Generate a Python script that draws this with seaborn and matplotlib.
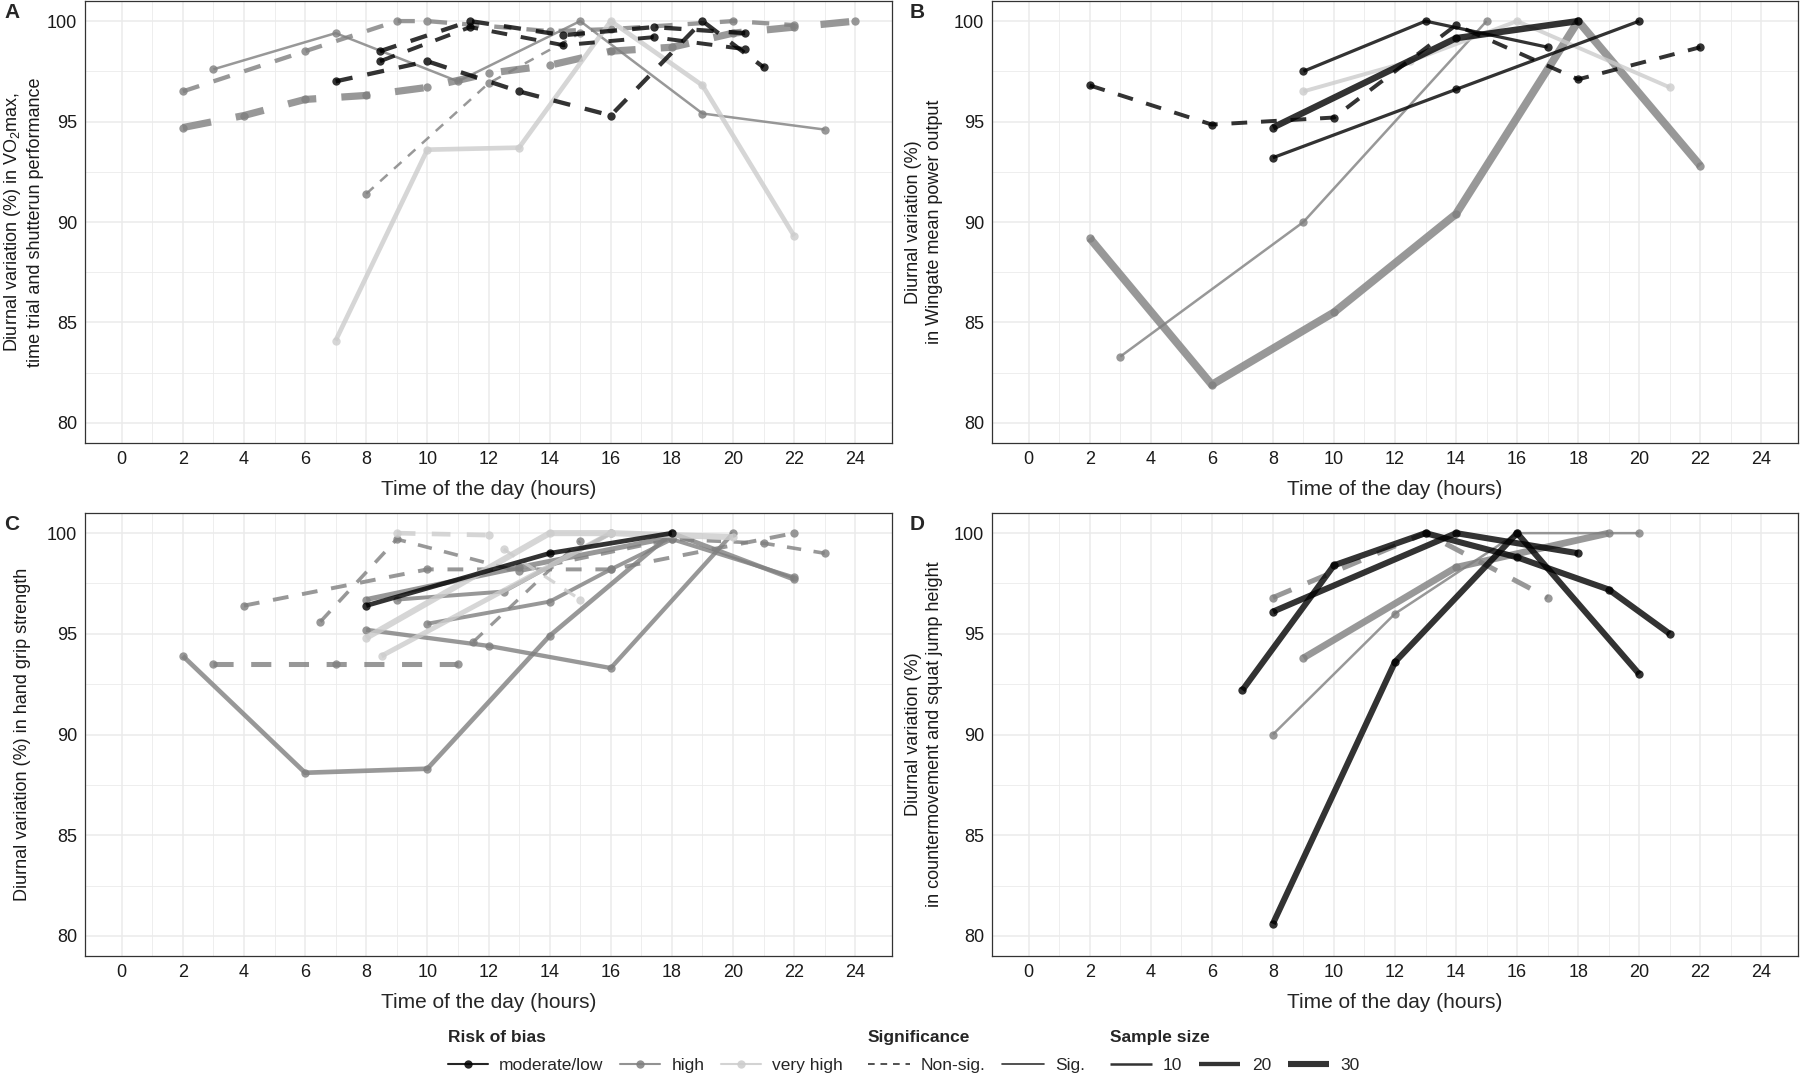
# Diurnal variation in performance - four panels (A-D)

import pandas as pd
import numpy as np
import matplotlib
matplotlib.use("Agg")
import matplotlib.pyplot as plt
from matplotlib.lines import Line2D
import seaborn as sns

# PANEL A - VO2max, time trial and shuttle run

a_hours = [
    [3, 7, 11, 15, 19, 23],
    [2, 4, 6, 8, 10, 12, 14, 16, 18, 20, 22, 24],
    [2, 6, 9, 10, 14, 16, 20, 22],
    [8, 12, 15],
    [7, 10, 13, 16, 19, 22],
    [7, 10, 13, 16, 19, 21],
    [8.45, 11.4, 14.45, 17.4, 20.4],
    [8.45, 11.4, 14.45, 17.4, 20.4],
]
a_values = [
    [97.6, 99.4, 97.0, 100.0, 95.4, 94.6],
    [94.7, 95.3, 96.1, 96.3, 96.7, 97.4, 97.8, 98.5, 98.7, 99.4, 99.7, 100.0],
    [96.5, 98.5, 100.0, 100.0, 99.5, 99.6, 100.0, 99.8],
    [91.4, 96.9, 99.4],
    [84.1, 93.6, 93.7, 100.0, 96.8, 89.3],
    [97.0, 98.0, 96.5, 95.3, 100.0, 97.7],
    [98.5, 100.0, 99.3, 99.7, 99.4],
    [98.0, 99.7, 98.8, 99.2, 98.6],
]
a_risk = ["high", "high", "high", "high", "very high",
          "moderate/low", "moderate/low", "moderate/low"]
a_sig = ["Sig.", "Non-sig.", "Non-sig.", "Non-sig.", "Sig.",
         "Non-sig.", "Non-sig.", "Non-sig."]
a_n = [10, 36, 20, 10, 22, 20, 20, 18]

# PANEL B - Wingate mean power output

b_hours = [
    [2, 6, 10, 14, 18, 22],
    [3, 9, 15],
    [9, 12.5, 16, 21],
    [2, 6, 10, 14, 18, 22],
    [9, 13, 17],
    [8, 14, 20],
    [8, 14, 18],
]
b_values = [
    [89.2, 81.9, 85.5, 90.4, 100.0, 92.8],
    [83.3, 90.0, 100.0],
    [96.5, 98.0, 100.0, 96.7],
    [96.8, 94.85, 95.2, 99.8, 97.1, 98.7],
    [97.5, 100.0, 98.7],
    [93.2, 96.6, 100.0],
    [94.7, 99.15, 100.0],
]
b_risk = ["high", "high", "very high", "moderate/low",
          "moderate/low", "moderate/low", "moderate/low"]
b_sig = ["Sig.", "Sig.", "Sig.", "Non-sig.", "Sig.", "Sig.", "Sig."]
b_n = [40, 10, 18, 18, 14, 14, 32]

# PANEL C - hand grip strength

c_hours = [
    [2, 6, 10, 14, 18, 22],
    [8, 12, 16, 20],
    [10, 14, 16, 18, 22],
    [9, 12.5, 16],
    [8, 13, 18],
    [3, 7, 11],
    [4, 10, 16, 22],
    [6.5, 9, 13, 18, 21, 23],
    [11.5, 15],
    [8, 14, 16, 20],
    [8.5, 16],
    [9, 12],
    [12.5, 15],
    [8, 14, 18],
]
c_values = [
    [93.9, 88.1, 88.3, 94.9, 100.0, 97.7],
    [95.2, 94.4, 93.3, 100.0],
    [95.5, 96.6, 98.2, 99.7, 97.8],
    [96.7, 97.1, 100.0],
    [96.7, 98.3, 99.8],
    [93.5, 93.5, 93.5],
    [96.4, 98.2, 98.2, 100.0],
    [95.6, 99.7, 98.1, 99.7, 99.5, 99.0],
    [94.6, 99.6],
    [94.8, 100.0, 100.0, 99.8],
    [93.9, 100.0],
    [100.0, 99.9],
    [99.2, 96.7],
    [96.4, 99.0, 100.0],
]
c_risk = ["high", "high", "high", "high", "high", "high", "high", "high", "high",
          "very high", "very high", "very high", "very high", "moderate/low"]
c_sig = ["Sig.", "Sig.", "Sig.", "Sig.", "Sig.", "Non-sig.", "Non-sig.", "Non-sig.",
         "Non-sig.", "Sig.", "Sig.", "Non-sig.", "Non-sig.", "Sig."]
c_n = [22, 20, 18, 18, 24, 24, 18, 16, 14, 30, 24, 22, 14, 22]

# PANEL D - countermovement and squat jump

d_hours = [
    [9, 14, 19],
    [8, 12, 16, 20],
    [8, 13, 17],
    [7, 10, 13, 16, 19, 21],
    [8, 14, 18],
    [8, 12, 16, 20],
]
d_values = [
    [93.8, 98.3, 100.0],
    [90.0, 96.0, 100.0, 100.0],
    [96.8, 100.0, 96.8],
    [92.2, 98.4, 100.0, 98.8, 97.2, 95.0],
    [96.1, 100.0, 99.0],
    [80.6, 93.6, 100.0, 93.0],
]
d_risk = ["high", "high", "high", "moderate/low", "moderate/low", "moderate/low"]
d_sig = ["Sig.", "Sig.", "Non-sig.", "Sig.", "Sig.", "Sig."]
d_n = [34, 10, 24, 30, 30, 30]

risk_levels = ["moderate/low", "high", "very high"]
sig_levels = ["Non-sig.", "Sig."]
size_levels = [10, 20, 30]

y_labels = {
    "A": "Diurnal variation (%) in VO$_2$max,\ntime trial and shutterun performance",
    "B": "Diurnal variation (%)\nin Wingate mean power output",
    "C": "Diurnal variation (%) in hand grip strength",
    "D": "Diurnal variation (%)\nin countermovement and squat jump height",
}

# LONG TABLE

def to_long(panel, hours, values, risk, sig, n):
    rows = []
    for i in range(len(hours)):
        for h, v in zip(hours[i], values[i]):
            rows.append({"panel": panel, "study": f"{panel}{i}", "hour": h,
                         "value": v, "risk": risk[i], "sig": sig[i], "n": n[i]})
    return pd.DataFrame(rows)

df = pd.concat([
    to_long("A", a_hours, a_values, a_risk, a_sig, a_n),
    to_long("B", b_hours, b_values, b_risk, b_sig, b_n),
    to_long("C", c_hours, c_values, c_risk, c_sig, c_n),
    to_long("D", d_hours, d_values, d_risk, d_sig, d_n),
], ignore_index=True)

# STYLE

sns.set_style("white")
plt.rcParams['font.family'] = ['Liberation Sans', 'DejaVu Sans']
plt.rcParams['mathtext.fontset'] = 'custom'
plt.rcParams['mathtext.rm'] = 'Liberation Sans'
plt.rcParams['mathtext.default'] = 'regular'

risk_colors = {"moderate/low": "#000000", "high": "#7F7F7F", "very high": "#CCCCCC"}
line_styles = {"Non-sig.": (0, (4, 3.5)), "Sig.": "-"}


def lw_for(n):
    return 1.8 + (n - 10) * 0.13


W, H = 1800, 1074
fig = plt.figure(figsize=(18, 10.74), dpi=100)

boxes = {
    "A": (85, 892, 1, 443),
    "B": (992, 1798, 1, 443),
    "C": (85, 892, 513, 956),
    "D": (992, 1798, 513, 956),
}

for panel, (x0, x1, y0, y1) in boxes.items():
    ax = fig.add_axes([x0 / W, 1 - y1 / H, (x1 - x0) / W, (y1 - y0) / H])
    sub = df[df["panel"] == panel]

    for study, s in sub.groupby("study", sort=False):
        row = s.iloc[0]
        sns.lineplot(
            data=s, x="hour", y="value", ax=ax,
            estimator=None, sort=False, legend=False,
            color=risk_colors[row["risk"]],
            linewidth=lw_for(row["n"]),
            linestyle=line_styles[row["sig"]],
            marker="o", markersize=6, markeredgewidth=0,
            alpha=0.8, solid_capstyle="butt", dash_capstyle="butt",
        )

    ax.set_xlim(-1.2, 25.2)
    ax.set_ylim(79, 101)
    ax.set_xticks(range(0, 25, 2))
    ax.set_xticks(range(1, 25, 2), minor=True)
    ax.set_yticks([80, 85, 90, 95, 100])
    ax.set_yticks([82.5, 87.5, 92.5, 97.5], minor=True)
    ax.grid(which="major", color="#EBEBEB", linewidth=1.1)
    ax.grid(which="minor", color="#EBEBEB", linewidth=0.6)
    ax.set_axisbelow(True)
    ax.tick_params(which="major", length=4, width=0.8, color="#333333",
                   labelsize=13, labelcolor="#1A1A1A", pad=1.5)
    ax.tick_params(which="minor", length=0)
    for sp in ax.spines.values():
        sp.set_color("#333333")
        sp.set_linewidth(0.9)

    ax.set_xlabel("Time of the day (hours)", fontsize=15, labelpad=9)
    ax.set_ylabel("")

    # y label and panel letter
    lab_x = 23 if x0 < 500 else 924
    fig.text(lab_x / W, 1 - ((y0 + y1) / 2) / H, y_labels[panel],
             rotation=90, ha="center", va="center", fontsize=13,
             linespacing=1.35, color="#1A1A1A")
    fig.text((4 if x0 < 500 else 910) / W, 1 - (y0 + 2) / H, panel,
             ha="left", va="top", fontsize=15, fontweight="bold")

# LEGENDS

common = dict(loc="upper left", frameon=False, fontsize=12.5, ncol=3,
              alignment="left", borderpad=0, borderaxespad=0,
              handletextpad=0.65, columnspacing=0.95, labelspacing=0.75,
              title_fontproperties={"weight": "bold", "size": 12.5})

risk_handles = [Line2D([], [], color=risk_colors[k], lw=1.5, marker="o",
                       markersize=6, markeredgewidth=0, alpha=0.85) for k in risk_levels]
fig.legend(risk_handles, risk_levels, title="Risk of bias",
           bbox_to_anchor=(448 / W, 1 - 1030 / H), handlelength=2.3, **common)

sig_handles = [Line2D([], [], color="#333333", lw=1.2, linestyle=line_styles[k])
               for k in sig_levels]
fig.legend(sig_handles, sig_levels, title="Significance",
           bbox_to_anchor=(868 / W, 1 - 1030 / H), handlelength=2.4, **common)

size_handles = [Line2D([], [], color="#333333", lw=lw_for(k), solid_capstyle="butt")
                for k in size_levels]
fig.legend(size_handles, [str(k) for k in size_levels], title="Sample size",
           bbox_to_anchor=(1110 / W, 1 - 1030 / H), handlelength=2.4, **common)

fig.savefig("out.png", dpi=100)
